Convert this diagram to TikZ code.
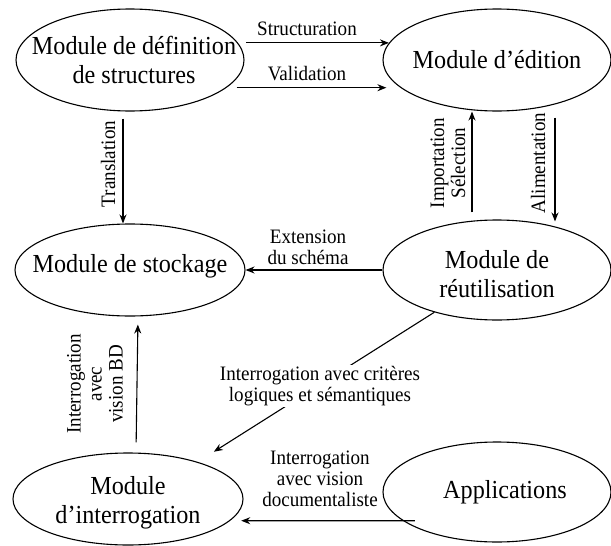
\documentclass[tikz,border=0pt]{standalone}
\usepackage{fontspec}
\setmainfont{Liberation Serif}[FakeStretch=0.93]
\usetikzlibrary{arrows.meta,shapes.geometric}
\begin{document}
\begin{tikzpicture}[x=1pt,y=-1pt,
  module/.style={ellipse, draw, line width=1.1pt, inner sep=0pt,
    minimum width=228pt, minimum height=100pt},
  mtext/.style={inner sep=0pt, align=center, font=\fontsize{26}{29}\selectfont},
  lbl/.style={inner sep=1pt, align=center, font=\fontsize{20.5}{21}\selectfont},
  arr/.style={-{Stealth[length=9pt,width=7pt]}, line width=1.1pt}]
\useasboundingbox (0,0) rectangle (611,546);

% modules (ellipse outline, text set as a centred label)
\node[module, minimum height=102pt,
  label={[mtext, xshift=4pt]center:Module de définition\\de structures}] (def) at (130,60) {};
\node[module, minimum height=102pt,
  label={[mtext]center:Module d’édition}] (edit) at (497,60) {};
\node[module, minimum width=230pt, minimum height=92pt,
  label={[mtext, yshift=4pt]center:Module de stockage}] (stock) at (130,270) {};
\node[module,
  label={[mtext, yshift=-4pt]center:Module de\\réutilisation}] (reuse) at (497,270) {};
\node[module, minimum width=230pt, minimum height=92pt,
  label={[mtext, yshift=-4pt]center:Module\\d’interrogation}] (interr) at (128,499) {};
\node[module,
  label={[mtext, xshift=8pt]center:Applications}] (apps) at (497,492) {};

% flows between modules
\draw[arr, shorten <=8pt] (def.9) -- (edit.171);
\draw[arr, shorten <=10pt, shorten >=14pt] (def.-16.4) -- (edit.196.4);
\draw[arr, shorten <=7pt] ([xshift=-7pt]def.south) -- ([xshift=-7pt]stock.north);
\draw[arr, shorten <=7pt] ([xshift=-25pt]reuse.north) -- ([xshift=-25pt]edit.south);
\draw[arr, shorten <=6pt] ([xshift=58pt]edit.south) -- ([xshift=58pt,yshift=-2pt]reuse.north);
\draw[arr] (reuse.west) -- (stock.east);
\draw[arr, shorten >=19pt] (reuse.214.5) -- (interr.28.5);
\draw[arr, shorten <=10pt, shorten >=8pt] ([xshift=8pt]interr.north) -- ([xshift=8pt]stock.south);
\draw[arr, shorten <=-12pt, shorten >=11pt] (apps.197) -- (interr.-12.5);

% flow labels
\node[lbl] (lstruct) at (307,29) {Structuration};
\node[lbl] (lvalid) at (307,74) {Validation};
\node[lbl, rotate=90] (ltrans) at (108,164) {Translation};
\node[lbl, rotate=90] (limport) at (448,163) {Importation\\Sélection};
\node[lbl, rotate=90] (lalim) at (538,163) {Alimentation};
\node[lbl] (lext) at (308,247) {Extension\\du schéma};
\node[lbl, fill=white] (lcrit) at (320,386) {Interrogation avec critères\\logiques et sémantiques};
\node[lbl, rotate=90] (lbd) at (95,384) {Interrogation\\avec\\vision BD};
\node[lbl] (ldoc) at (320,479) {Interrogation\\avec vision\\documentaliste};
\end{tikzpicture}
\end{document}
